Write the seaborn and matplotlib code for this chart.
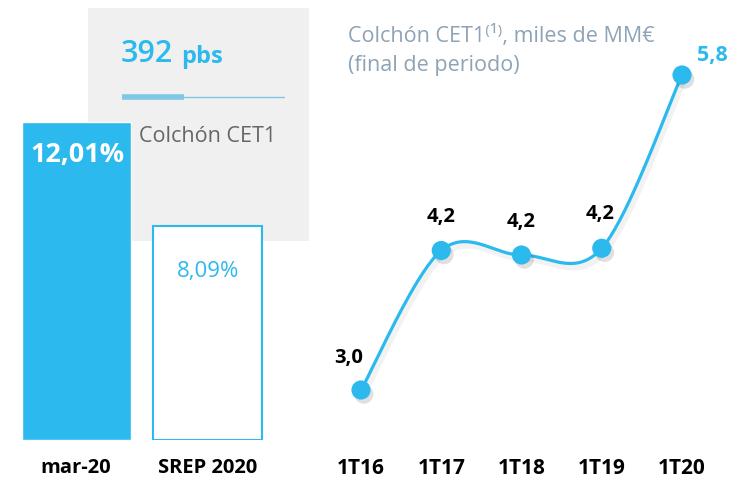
import numpy as np
import pandas as pd
import matplotlib
matplotlib.use("Agg")
import matplotlib.pyplot as plt
import matplotlib.patheffects as pe
from matplotlib.patches import Rectangle
import seaborn as sns

# Data
bar_labels = ["mar-20", "SREP 2020"]
bar_values = [12.01, 8.09]
bar_texts = ["12,01%", "8,09%"]

periods = ["1T16", "1T17", "1T18", "1T19", "1T20"]
buffer_values = [3.0, 4.24, 4.20, 4.26, 5.8]
buffer_texts = ["3,0", "4,2", "4,2", "4,2", "5,8"]

headline = "392"
headline_unit = "pbs"
box_caption = "Colchón CET1"

BLUE = "#2bb9ee"
TITLE_GREY = "#8ea3b6"

sns.set_theme(style="white")
plt.rcParams["font.family"] = ["Open Sans", "DejaVu Sans"]

W, H = 738, 480
fig = plt.figure(figsize=(W / 100, H / 100), dpi=100)


def px_axes(x0, y0, x1, y1):
    # pixel box (top-left origin) -> figure axes
    return fig.add_axes([x0 / W, 1 - y1 / H, (x1 - x0) / W, (y1 - y0) / H])


# ---------- left panel: bars ----------
ax = px_axes(0, 0, 310, 440)

# grey box behind the bars
box = Rectangle(((88 / 132) - 0.576, (440 - 241) / 26.5), 221 / 132, 233 / 26.5,
                facecolor="#f0f0f0", edgecolor="none", zorder=0)
ax.add_patch(box)

df_bars = pd.DataFrame({"label": bar_labels, "value": bar_values})
sns.barplot(data=df_bars, x="label", y="value", color=BLUE, saturation=1,
            width=0.826, ax=ax, zorder=2)
ax.axis("off")
ax.set_xlim(-0.576, 1.773)
ax.set_ylim(0, 440 / 26.5)
p2 = ax.patches[-1]
p2.set_facecolor("white")
p2.set_edgecolor(BLUE)
p2.set_linewidth(1.5)

ax.text(0.01, bar_values[0] - 1.25, bar_texts[0], ha="center", va="center",
        color="white", fontsize=19.5, fontweight="bold", zorder=3)
ax.text(1, bar_values[1] - 1.75, bar_texts[1], ha="center", va="center",
        color=BLUE, fontsize=16, zorder=3)

for i, lab in enumerate(bar_labels):
    fig.text((76 + 132 * i) / W, 1 - 468 / H, lab, ha="center", va="center",
             fontsize=14.5, fontweight="bold", color="black")

# headline inside grey box
fig.text(121 / W, 1 - 54 / H, headline, ha="left", va="center",
         fontsize=22, fontweight="semibold", color=BLUE)
fig.text(181 / W, 1 - 57 / H, headline_unit, ha="left", va="center",
         fontsize=17, fontweight="bold", color=BLUE)
fig.add_artist(plt.Line2D([122 / W, 184 / W], [1 - 97 / H] * 2, color="#7ec8e6", lw=4,
                          solid_capstyle="butt"))
fig.add_artist(plt.Line2D([184 / W, 284 / W], [1 - 97 / H] * 2, color="#7ec8e6", lw=1))
fig.text(139 / W, 1 - 137 / H, box_caption, ha="left", va="center",
         fontsize=15.5, color="#666666")

# ---------- right panel: smoothed line ----------
axl = px_axes(310, 0, 738, 440)

xs = np.arange(len(periods))
ys = np.array(buffer_values)

# Excel-style smoothed curve: cubic Bezier segments through the points
curve_x, curve_y = [], []
t = np.linspace(0, 1, 40)
for i in range(len(xs) - 1):
    p0 = np.array([xs[max(i - 1, 0)], ys[max(i - 1, 0)]])
    p1 = np.array([xs[i], ys[i]])
    p2 = np.array([xs[i + 1], ys[i + 1]])
    p3 = np.array([xs[min(i + 2, len(xs) - 1)], ys[min(i + 2, len(xs) - 1)]])
    c1 = p1 + (p2 - p0) / 6
    c2 = p2 - (p3 - p1) / 6
    seg = ((1 - t) ** 3)[:, None] * p1 + (3 * (1 - t) ** 2 * t)[:, None] * c1 \
        + (3 * (1 - t) * t ** 2)[:, None] * c2 + (t ** 3)[:, None] * p2
    curve_x.extend(seg[:, 0])
    curve_y.extend(seg[:, 1])

shadow = [pe.SimpleLineShadow(offset=(2, -3), shadow_color="black", alpha=0.05, linewidth=4),
          pe.Normal()]
axl.plot(curve_x, curve_y, color=BLUE, lw=2.3, zorder=2, path_effects=shadow)

df_line = pd.DataFrame({"x": xs, "y": ys})
sns.scatterplot(data=df_line, x="x", y="y", s=190, color=BLUE, edgecolor="none",
                ax=axl, zorder=3)
axl.collections[-1].set_path_effects(
    [pe.SimplePatchShadow(offset=(2, -3), shadow_rgbFace="black", alpha=0.12), pe.Normal()])
axl.axis("off")
axl.set_xlim(-51 / 80.25, 377 / 80.25)
axl.set_ylim(3.0 - 50 / 112.5, 5.8 + 75 / 112.5)

label_offsets = [(-12, 32), (0, 33), (0, 33), (-2, 34), (30, 19)]
for i, (dx, dy) in enumerate(label_offsets):
    last = i == len(periods) - 1
    axl.annotate(buffer_texts[i], (xs[i], ys[i]), xytext=(dx * 0.72, dy * 0.72),
                 textcoords="offset points", ha="center", va="center",
                 fontsize=15.5 if last else 14.5, fontweight="bold",
                 color=BLUE if last else "black")

for i, lab in enumerate(periods):
    fig.text((361 + 80.25 * i) / W, 1 - 468 / H, lab, ha="center", va="center",
             fontsize=15, fontweight="bold", color="black")

fig.text(348 / W, 1 - 36 / H, "Colchón CET1⁽¹⁾, miles de MM€", ha="left", va="center",
         fontsize=15.5, color=TITLE_GREY)
fig.text(348 / W, 1 - 66 / H, "(final de periodo)", ha="left", va="center",
         fontsize=15.5, color=TITLE_GREY)

fig.savefig("out.png", dpi=100)
